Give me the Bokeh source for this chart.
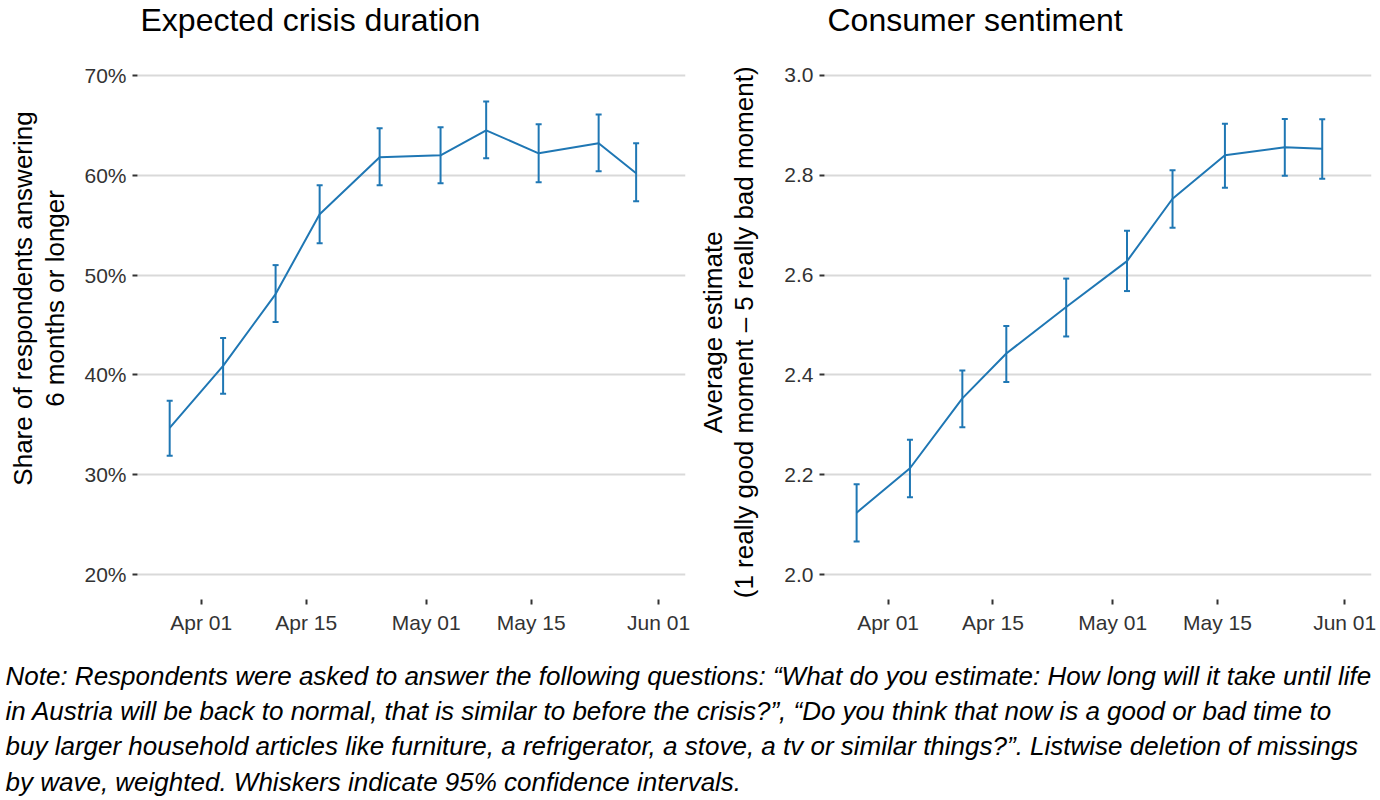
import math
import pandas as pd
from bokeh.plotting import figure
from bokeh.models import (ColumnDataSource, Whisker, TeeHead, Range1d, FixedTicker,
                          DatetimeTickFormatter, PrintfTickFormatter, NumeralTickFormatter)
from bokeh.layouts import column, row
from bokeh.embed import file_html
from bokeh.resources import INLINE
from bokeh.core.properties import value

# ---------------- data ----------------
wave_dates = ["2020-03-27 19:00", "2020-04-03 22:00", "2020-04-10 22:00", "2020-04-16 19:00",
              "2020-04-24 19:00", "2020-05-02 22:00", "2020-05-09 00:00", "2020-05-16 00:00",
              "2020-05-24 00:00", "2020-05-29 00:00"]
duration_share = [34.7, 40.9, 48.1, 56.1, 61.8, 62.0, 64.5, 62.2, 63.2, 60.2]
duration_lower = [31.9, 38.1, 45.3, 53.2, 59.0, 59.2, 61.7, 59.3, 60.4, 57.4]
duration_upper = [37.4, 43.7, 51.0, 59.0, 64.7, 64.8, 67.4, 65.1, 66.1, 63.2]

sentiment_mean = [2.124, 2.213, 2.353, 2.443, 2.536, 2.628, 2.753, 2.840, 2.856, 2.853]
sentiment_lower = [2.066, 2.155, 2.295, 2.386, 2.477, 2.568, 2.695, 2.775, 2.799, 2.793]
sentiment_upper = [2.181, 2.270, 2.409, 2.498, 2.593, 2.689, 2.810, 2.903, 2.913, 2.912]

x_tick_dates = ["2020-04-01", "2020-04-15", "2020-05-01", "2020-05-15", "2020-06-01"]
left_y_ticks = [20, 30, 40, 50, 60, 70]
right_y_ticks = [2.0, 2.2, 2.4, 2.6, 2.8, 3.0]

panel_titles = ["Expected crisis duration", "Consumer sentiment"]
left_ylabel_lines = ["Share of respondents answering", "6 months or longer"]
right_ylabel_lines = ["Average estimate", "(1 really good moment \u2013 5 really bad moment)"]

note_lines = [
    "Note: Respondents were asked to answer the following questions: \u201cWhat do you estimate: How long will it take until life",
    "in Austria will be back to normal, that is similar to before the crisis?\u201d, \u201cDo you think that now is a good or bad time to",
    "buy larger household articles like furniture, a refrigerator, a stove, a tv or similar things?\u201d. Listwise deletion of missings",
    "by wave, weighted. Whiskers indicate 95% confidence intervals.",
]

# ---------------- styling ----------------
FONT = "Liberation Sans"
BLUE = "#1f77b4"
TICK_COLOR = "#333333"
GRID_COLOR = "#d9d9d9"
BASE_CORR = 0.36          # empirical shift of the alphabetic baseline (fraction of font size)

x_start = pd.Timestamp("2020-03-23 12:00")
x_end = pd.Timestamp("2020-06-04 14:00")
x_ticks_ms = [pd.Timestamp(d).timestamp() * 1000 for d in x_tick_dates]
fmt = "%b %d"
dt_fmt = DatetimeTickFormatter(milliseconds=fmt, seconds=fmt, minsec=fmt, minutes=fmt,
                               hourmin=fmt, hours=fmt, days=fmt, months=fmt, years=fmt)

PANEL_H = 600


def blank(width, height, xr, yr):
    f = figure(width=width, height=height, output_backend="svg", toolbar_location=None,
               x_range=xr, y_range=yr, min_border=0)
    f.title = None
    f.axis.visible = False
    f.grid.grid_line_color = None
    f.outline_line_color = None
    return f


def make_panel(width, y, lo, hi, yticks, y_range, yformatter, mb_left, mb_right):
    p = figure(width=width, height=PANEL_H, output_backend="svg", toolbar_location=None,
               x_axis_type="datetime", x_range=Range1d(x_start, x_end), y_range=y_range,
               min_border_left=mb_left, min_border_right=mb_right,
               min_border_top=0, min_border_bottom=51)
    p.title = None
    p.outline_line_color = None

    src = ColumnDataSource(dict(x=pd.to_datetime(wave_dates), y=y, lo=lo, hi=hi))
    p.line("x", "y", source=src, line_color=BLUE, line_width=2)
    w = Whisker(base="x", upper="hi", lower="lo", source=src, dimension="height",
                line_color=BLUE, line_width=2,
                upper_head=TeeHead(size=6, line_color=BLUE, line_width=2),
                lower_head=TeeHead(size=6, line_color=BLUE, line_width=2))
    p.add_layout(w)

    yt = FixedTicker(ticks=yticks)
    p.yaxis.ticker = yt
    p.xaxis.ticker = FixedTicker(ticks=x_ticks_ms)
    p.yaxis.formatter = yformatter
    p.xaxis.formatter = dt_fmt

    p.xgrid.grid_line_color = None
    p.ygrid.ticker = yt
    p.ygrid.grid_line_color = GRID_COLOR
    p.ygrid.grid_line_width = 2

    for ax in (p.xaxis, p.yaxis):
        ax.axis_line_color = None
        ax.major_tick_line_color = TICK_COLOR
        ax.major_tick_line_width = 2
        ax.major_tick_in = 0
        ax.major_tick_out = 5
        ax.minor_tick_line_color = None
        ax.major_label_text_font = FONT
        ax.major_label_text_font_size = "21px"
        ax.major_label_text_color = TICK_COLOR
        ax.major_label_standoff = 6
    return p


def ylabel_fig(width, lines, baselines_x, center_y, fs=26):
    # y measured upward from bottom of this strip (strip spans page y 50..650)
    f = blank(width, PANEL_H, Range1d(0, width), Range1d(0, PANEL_H))
    f.text(x=[bx - BASE_CORR * fs for bx in baselines_x], y=[center_y] * len(lines),
           text=lines, angle=math.pi / 2, text_font=value(FONT), text_font_size=f"{fs}px",
           text_align="center", text_baseline="alphabetic", text_color="black")
    return f


# header with the two panel titles (y measured downward from the top of the page)
TITLE_FS = 32
header = blank(1380, 50, Range1d(0, 1380), Range1d(50, 0))
header.text(x=[140, 827], y=[31 - BASE_CORR * TITLE_FS] * 2, text=panel_titles,
            text_font=value(FONT), text_font_size=f"{TITLE_FS}px", text_align="left",
            text_baseline="alphabetic", text_color="black")

# centre positions corrected for the observed along-text offset of rotated text
lab1 = ylabel_fig(75, left_ylabel_lines, [32, 64], PANEL_H - (321 - 50))
p1 = make_panel(615, duration_share, duration_lower, duration_upper, left_y_ticks,
                Range1d(17.5, 72.5), PrintfTickFormatter(format="%d%%"), 62, 5)
lab2 = ylabel_fig(85, right_ylabel_lines, [32, 63], PANEL_H - (358 - 50))
p2 = make_panel(605, sentiment_mean, sentiment_lower, sentiment_upper, right_y_ticks,
                Range1d(1.95, 3.05), NumeralTickFormatter(format="0.0"), 49, 9)

NOTE_FS = 26
note = blank(1380, 150, Range1d(0, 1380), Range1d(150, 0))
first_baseline = 34.5
line_gap = 35.3
note.text(x=[5] * len(note_lines),
          y=[first_baseline - BASE_CORR * NOTE_FS + i * line_gap for i in range(len(note_lines))],
          text=note_lines, text_font=value(FONT), text_font_style="italic",
          text_font_size=f"{NOTE_FS}px", text_baseline="alphabetic", text_align="left",
          text_color="black")

layout = column(header, row(lab1, p1, lab2, p2), note)
open("out.html", "w").write(file_html(layout, INLINE))
